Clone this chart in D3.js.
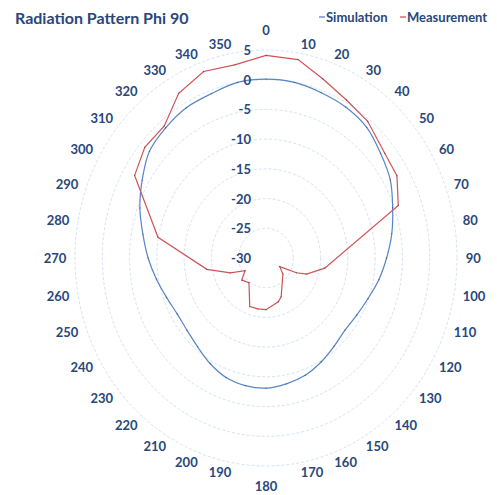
<!DOCTYPE html>
<html><head><meta charset="utf-8">
<script src="https://cdn.jsdelivr.net/npm/d3@7"></script>
<style>body{margin:0;background:#fff}svg{display:block}</style>
</head><body><svg id="c" width="497" height="495"></svg>
<script>
// ---- data ----
const chartTitle = "Radiation Pattern Phi 90";
const seriesNames = ["Simulation", "Measurement"];
const angleLabels = ["0","10","20","30","40","50","60","70","80","90","100","110","120","130","140","150","160","170","180","190","200","210","220","230","240","250","260","270","280","290","300","310","320","330","340","350"];
const ringTicks = [-30, -25, -20, -15, -10, -5, 0, 5];
const simAngles = [0,10,20,30,40,50,60,70,80,90,100,110,120,130,140,150,160,170,180,190,200,210,220,230,240,250,260,270,280,290,300,310,320,330,340,350];
const simValues = [0.1,0.0,-0.4,-0.7,-1.3,-2.6,-3.7,-5.3,-6.6,-7.9,-9.0,-10.1,-10.8,-11.1,-10.6,-9.8,-9.0,-8.5,-8.1,-8.2,-8.6,-9.5,-10.5,-11.1,-11.2,-10.6,-9.6,-8.4,-7.1,-5.4,-3.8,-2.1,-1.4,-0.8,-0.6,0.0];
const measAngles = [0,10,19,29,39,51,60,70,99,110,114,120,131,157,163,180,190,200,217,230,241,249,260,280,300,310,320,330,340,350];
const measValues = [4.1,3.9,1.9,0.4,-0.4,-2.0,-2.3,-4.2,-19.1,-22.1,-23.9,-27.1,-25.9,-22.9,-22.3,-21.3,-21.3,-21.3,-24.8,-24.2,-25.6,-23.0,-19.0,-9.9,-2.2,-1.0,-1.0,2.0,3.4,3.0];

// ---- layout ----
const svg = d3.select("#c");
const cx = 266, cy = 258, RX = 191, RY = 208;
const textColor = "#28477a";
const font = "Lato, 'Open Sans', sans-serif";
const rx = d3.scaleLinear().domain([-30, 5]).range([0, RX]);
const ry = d3.scaleLinear().domain([-30, 5]).range([0, RY]);
const ang = d3.scaleLinear().domain([0, 360]).range([0, 2 * Math.PI]);
const px = (a, v) => cx + rx(v) * Math.sin(ang(a));
const py = (a, v) => cy - ry(v) * Math.cos(ang(a));

// grid rings
svg.append("g").selectAll("ellipse").data(ringTicks.slice(1)).join("ellipse")
  .attr("cx", cx).attr("cy", cy)
  .attr("rx", d => rx(d)).attr("ry", d => ry(d))
  .attr("fill", "none").attr("stroke", "#d5e2f2").attr("stroke-width", 1)
  .attr("stroke-dasharray", "3,2");

// series
const simData = simAngles.map((a, i) => ({a, v: simValues[i]}));
const measData = measAngles.map((a, i) => ({a, v: measValues[i]}));
const lineSim = d3.line().x(d => px(d.a, d.v)).y(d => py(d.a, d.v)).curve(d3.curveCatmullRomClosed.alpha(0.5));
const lineMeas = d3.line().x(d => px(d.a, d.v)).y(d => py(d.a, d.v)).curve(d3.curveLinearClosed);
svg.append("path").attr("d", lineSim(simData)).attr("fill", "none").attr("stroke", "#5585c8").attr("stroke-width", 1.2);
svg.append("path").attr("d", lineMeas(measData)).attr("fill", "none").attr("stroke", "#cf5457").attr("stroke-width", 1.2);

// tiny dark markers at data points
svg.append("g").selectAll("circle").data(simData.concat(measData)).join("circle")
  .attr("cx", d => px(d.a, d.v)).attr("cy", d => py(d.a, d.v)).attr("r", 0.7)
  .attr("fill", "#333").attr("opacity", 0.55);

// value labels
svg.append("g").selectAll("text").data(ringTicks).join("text")
  .attr("x", cx - 15).attr("y", d => cy - ry(d))
  .attr("text-anchor", "end").attr("dominant-baseline", "central")
  .attr("font-family", font).attr("font-weight", 700).attr("font-size", 13)
  .attr("fill", textColor).text(d => d);

// angle labels
svg.append("g").selectAll("text").data(angleLabels).join("text")
  .each(function(d) {
    const a = ang(+d), s = Math.sin(a), c = Math.cos(a);
    const t = d3.select(this);
    if (Math.abs(s) < 0.01) {
      t.attr("x", cx).attr("y", cy - (RY + 20) * c).attr("text-anchor", "middle");
    } else {
      t.attr("x", cx + (RX + 9.5 * RX / RY) * s).attr("y", cy - (RY + 9.5) * c)
       .attr("text-anchor", s > 0 ? "start" : "end");
    }
  })
  .attr("dominant-baseline", "central")
  .attr("font-family", font).attr("font-weight", 700).attr("font-size", 13)
  .attr("fill", textColor).text(d => d);

// title
svg.append("text").attr("x", 15).attr("y", 24).text(chartTitle)
  .attr("font-family", font).attr("font-weight", 700).attr("font-size", 16).attr("fill", textColor);

// legend
const legColors = ["#5585c8", "#cf5457"];
const legX = [319, 400];
seriesNames.forEach((n, i) => {
  svg.append("line").attr("x1", legX[i]).attr("x2", legX[i] + 6).attr("y1", 17).attr("y2", 17)
    .attr("stroke", legColors[i]).attr("stroke-width", 1.3);
  svg.append("text").attr("x", legX[i] + 7).attr("y", 22).text(n)
    .attr("font-family", font).attr("font-weight", 700).attr("font-size", 13).attr("fill", textColor);
});
</script></body></html>
